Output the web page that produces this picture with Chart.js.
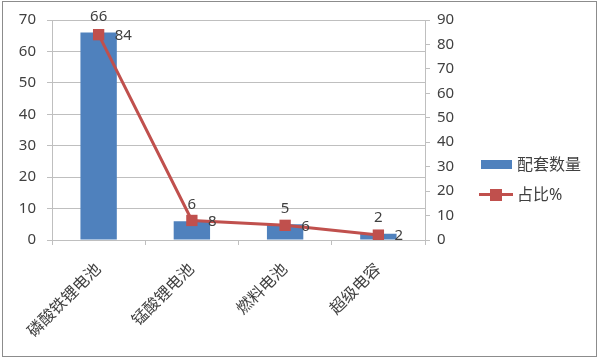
<!DOCTYPE html>
<html>
<head>
<meta charset="utf-8">
<script src="https://cdn.jsdelivr.net/npm/chart.js@4"></script>
<style>
  html, body { margin: 0; padding: 0; background: #fff; }
  #wrap { width: 600px; height: 359px; position: relative; }
</style>
</head>
<body>
<div id="wrap"><canvas id="chart"></canvas></div>
<script>
const categories = ['磷酸铁锂电池', '锰酸锂电池', '燃料电池', '超级电容'];
const quantity = [66, 6, 5, 2];
const share = [84, 8, 6, 2];
const seriesNames = ['配套数量', '占比%'];

const blue = '#4F81BD';
const red = '#C0504D';
const textColor = '#404040';
const gridColor = '#BFBFBF';
const fontFamily = '"Noto Sans", "Noto Sans CJK SC", sans-serif';

// frame, data labels and legend are drawn here
const extras = {
    id: 'extras',
    beforeDraw(chart) {
        const ctx = chart.ctx;
        ctx.save();
        ctx.fillStyle = '#fff';
        ctx.fillRect(0, 0, chart.width, chart.height);
        ctx.strokeStyle = '#8c8c8c';
        ctx.lineWidth = 1;
        ctx.strokeRect(2.5, 1.5, 594, 355);
        ctx.restore();
    },
    afterDatasetsDraw(chart) {
        const ctx = chart.ctx;
        ctx.save();
        ctx.font = '15px ' + fontFamily;
        ctx.fillStyle = textColor;
        ctx.textBaseline = 'middle';

        const barMeta = chart.getDatasetMeta(0);
        ctx.textAlign = 'center';
        barMeta.data.forEach((bar, i) => {
            ctx.fillText(String(quantity[i]), bar.x, bar.y - 16);
        });

        const lineMeta = chart.getDatasetMeta(1);
        ctx.textAlign = 'left';
        lineMeta.data.forEach((pt, i) => {
            ctx.fillText(String(share[i]), pt.x + 16, pt.y + 1);
        });

        // legend
        ctx.fillStyle = blue;
        ctx.fillRect(481, 160, 31, 9);
        ctx.strokeStyle = red;
        ctx.lineWidth = 3;
        ctx.beginPath();
        ctx.moveTo(479, 194.5);
        ctx.lineTo(513, 194.5);
        ctx.stroke();
        ctx.fillStyle = red;
        ctx.fillRect(490, 189, 12, 12);
        ctx.fillStyle = textColor;
        ctx.font = '16px ' + fontFamily;
        ctx.textAlign = 'left';
        ctx.fillText(seriesNames[0], 517, 165);
        ctx.fillText(seriesNames[1], 517, 195);
        ctx.restore();
    }
};

new Chart(document.getElementById('chart'), {
    type: 'bar',
    data: {
        labels: categories,
        datasets: [
            {
                type: 'bar',
                label: seriesNames[0],
                data: quantity,
                backgroundColor: blue,
                yAxisID: 'y',
                categoryPercentage: 1,
                barPercentage: 0.39,
                order: 2
            },
            {
                type: 'line',
                label: seriesNames[1],
                data: share,
                borderColor: red,
                backgroundColor: red,
                borderWidth: 3,
                pointStyle: 'rect',
                pointRadius: 8,
                pointBorderWidth: 0,
                yAxisID: 'y1',
                order: 1
            }
        ]
    },
    options: {
        responsive: true,
        maintainAspectRatio: false,
        animation: false,
        events: [],
        layout: { padding: { top: 19, left: 0, right: 0, bottom: 0 } },
        plugins: {
            legend: { display: false },
            tooltip: { enabled: false }
        },
        scales: {
            x: {
                grid: { drawOnChartArea: false, color: gridColor, tickLength: 5 },
                border: { color: gridColor },
                ticks: {
                    color: textColor,
                    font: { size: 16, family: fontFamily },
                    minRotation: 45,
                    maxRotation: 45,
                    padding: 15
                },
                afterFit(scale) { scale.height = 119; }
            },
            y: {
                position: 'left',
                min: 0,
                max: 70,
                grid: { color: gridColor, tickLength: 5 },
                border: { color: gridColor },
                ticks: {
                    stepSize: 10,
                    color: textColor,
                    font: { size: 15, family: fontFamily },
                    padding: 11
                },
                afterFit(scale) { scale.width = 52; }
            },
            y1: {
                position: 'right',
                min: 0,
                max: 90,
                grid: { drawOnChartArea: false, color: gridColor, tickLength: 5 },
                border: { color: gridColor },
                ticks: {
                    stepSize: 10,
                    color: textColor,
                    font: { size: 15, family: fontFamily },
                    padding: 7
                },
                afterFit(scale) { scale.width = 175; }
            }
        }
    },
    plugins: [extras]
});
</script>
</body>
</html>
